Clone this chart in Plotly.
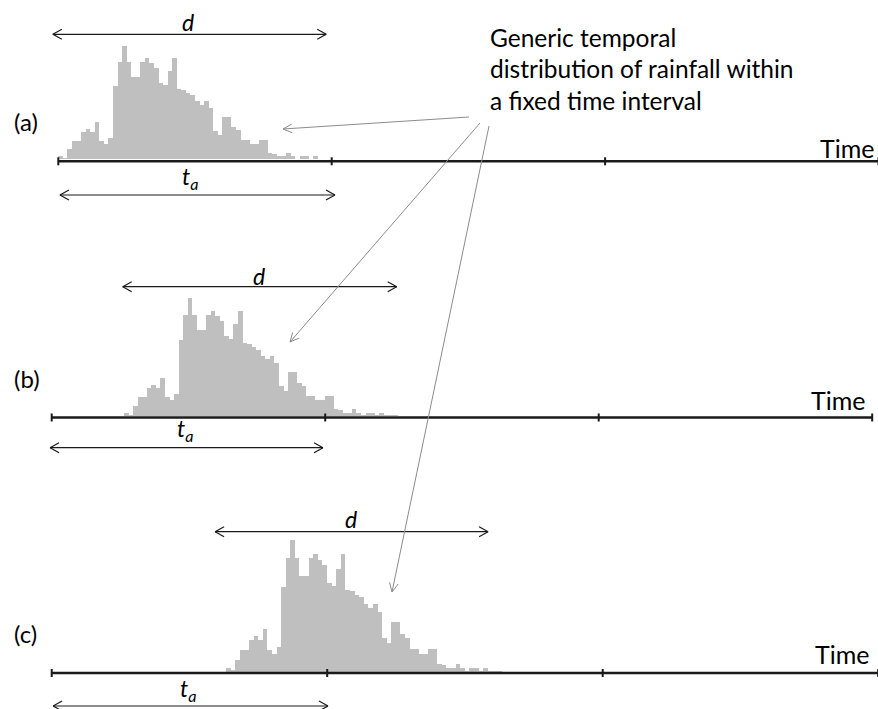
import math
import plotly.graph_objects as go

W, H = 878, 709

# ---------------- data ----------------
# relative rainfall depth per time bin (generic storm hyetograph, 60 bins)
rain = [10, 3, 30, 55, 55, 80, 90, 80, 110, 55, 45, 63, 217, 290, 337, 290, 245, 245, 290, 300,
        285, 273, 228, 220, 263, 300, 210, 207, 197, 190, 173, 163, 173, 153, 85, 73, 127, 127, 95, 87,
        57, 57, 45, 45, 57, 57, 20, 17, 10, 10, 20, 10, 2, 10, 10, 2, 10, 2, 2, 2]
storm_duration = 1.0                 # d (in units of the fixed interval t_a)
storm_start = [0.0, 0.2644, 0.6327]  # start time of the storm in each panel
tick_times = [0, 1, 2, 3]
panel_labels = ["(a)", "(b)", "(c)"]
axis_label = "Time"
callout_lines = ["Generic temporal", "distribution of rainfall within", "a fixed time interval"]
d_arrow_span = [(-0.02, 0.98), (0.2596, 1.2614), (0.593, 1.584)]
ta_arrow_span = [(0.006, 1.012), (-0.006, 0.992), (0.005, 1.003)]

# ---------------- layout constants (pixels) ----------------
origin_px = [58.3, 51.7, 51.7]      # pixel x of t = 0
unit_px = [273.4, 273.5, 275.5]     # pixels per time unit
zero_px = [159.3, 416.0, 671.5]     # pixel y of zero rainfall
line_px = [161.3, 417.5, 673.0]     # pixel y of the time axis line
peak_top_px = [46.0, 298.3, 540.0]  # pixel y of the highest bar
d_y = [34.3, 286.7, 531.7]
ta_y = [195.0, 447.7, 706.0]
d_lab = [(188, 22.5), (259, 276), (351, 518.5)]
ta_lab = [(190, 177), (185, 430), (188, 689)]
lab_y = [121.5, 378.5, 633]
time_y = [148, 400, 654]
time_x = [876, 867, 871]

FONT = "Lato"
BAR = "#BFBFBF"
GREY = "#8C8C8C"
INK = "#1A1A1A"

fig = go.Figure()
n = len(rain)
w = storm_duration / n
rmax = max(rain)

shapes = []
annotations = []


def py(y):
    return 1 - y / H


for p in range(3):
    sfx = "" if p == 0 else str(p + 1)
    xa, ya = "x" + sfx, "y" + sfx
    k = (zero_px[p] - peak_top_px[p]) / rmax  # px per rain unit
    xr = [-origin_px[p] / unit_px[p], (W - origin_px[p]) / unit_px[p]]
    yr = [-(H - zero_px[p]) / k, zero_px[p] / k]
    fig.add_trace(go.Bar(
        x=[storm_start[p] + (i + 0.5) * w for i in range(n)],
        y=rain, width=w, marker=dict(color=BAR, line=dict(width=0)),
        xaxis=xa, yaxis=ya, showlegend=False, hoverinfo="skip"))
    fig.update_layout(**{
        ("xaxis" + sfx): dict(domain=[0, 1], range=xr, visible=False, fixedrange=True,
                              anchor=ya),
        ("yaxis" + sfx): dict(domain=[0, 1], range=yr, visible=False, fixedrange=True,
                              anchor=xa),
    })
    u = unit_px[p]
    # time axis line
    shapes.append(dict(type="line", xref=xa, yref="paper", x0=tick_times[0], x1=tick_times[-1],
                       y0=py(line_px[p]), y1=py(line_px[p]), line=dict(color=INK, width=2.5),
                       layer="above"))
    for t in tick_times:
        shapes.append(dict(type="line", xref=xa, yref="paper", x0=t, x1=t,
                           y0=py(line_px[p] - 4), y1=py(line_px[p] + 4),
                           line=dict(color=INK, width=2), layer="above"))
    # double arrows (d and t_a)
    hl, hw = 9.0, 5.0
    for (a0, a1), yy in ((d_arrow_span[p], d_y[p]), (ta_arrow_span[p], ta_y[p])):
        shapes.append(dict(type="line", xref=xa, yref="paper", x0=a0, x1=a1, y0=py(yy), y1=py(yy),
                           line=dict(color=INK, width=1.2)))
        for tip, sgn in ((a0, 1), (a1, -1)):
            for dy in (-hw, hw):
                shapes.append(dict(type="line", xref=xa, yref="paper", x0=tip, x1=tip + sgn * hl / u,
                                   y0=py(yy), y1=py(yy + dy), line=dict(color=INK, width=1.2)))
    annotations.append(dict(text="<i>d</i>", xref="paper", yref="paper", x=d_lab[p][0] / W,
                            y=py(d_lab[p][1]), xanchor="center", yanchor="middle", showarrow=False,
                            font=dict(size=23, color="black", family=FONT)))
    annotations.append(dict(text="<i>t</i><sub><i>a</i></sub>", xref="paper", yref="paper",
                            x=ta_lab[p][0] / W, y=py(ta_lab[p][1]), xanchor="center",
                            yanchor="middle", showarrow=False,
                            font=dict(size=23, color="black", family=FONT)))
    annotations.append(dict(text=panel_labels[p], xref="paper", yref="paper", x=12 / W,
                            y=py(lab_y[p]), xanchor="left", yanchor="middle", showarrow=False,
                            font=dict(size=24, color="black", family=FONT)))
    annotations.append(dict(text=axis_label, xref="paper", yref="paper", x=time_x[p] / W,
                            y=py(time_y[p]), xanchor="right", yanchor="middle", showarrow=False,
                            font=dict(size=25, color="black", family=FONT)))

# callout text
for i, line in enumerate(callout_lines):
    annotations.append(dict(text=line, xref="paper", yref="paper", x=488 / W, y=py(37 + 31.5 * i),
                            xanchor="left", yanchor="middle", showarrow=False,
                            font=dict(size=24.5, color="black", family=FONT)))

# callout arrows with open heads
callouts = [((469, 117), (283, 129)), ((480, 123), (290, 342)), ((489, 126), (392, 592))]
for (sx, sy), (ex, ey) in callouts:
    shapes.append(dict(type="line", xref="paper", yref="paper", x0=sx / W, y0=py(sy), x1=ex / W,
                       y1=py(ey), line=dict(color=GREY, width=1)))
    ang = math.atan2(sy - ey, sx - ex)
    for da in (-0.45, 0.45):
        hx = ex + 10 * math.cos(ang + da)
        hy = ey + 10 * math.sin(ang + da)
        shapes.append(dict(type="line", xref="paper", yref="paper", x0=ex / W, y0=py(ey),
                           x1=hx / W, y1=py(hy), line=dict(color=GREY, width=1)))

fig.update_layout(
    width=W, height=H, margin=dict(l=0, r=0, t=0, b=0),
    paper_bgcolor="white", plot_bgcolor="rgba(0,0,0,0)",
    shapes=shapes, annotations=annotations, showlegend=False, bargap=0,
)
fig.write_html("out.html", config={"displayModeBar": False, "staticPlot": True},
               post_script="document.body.style.margin='0';document.body.style.overflow='hidden';")
